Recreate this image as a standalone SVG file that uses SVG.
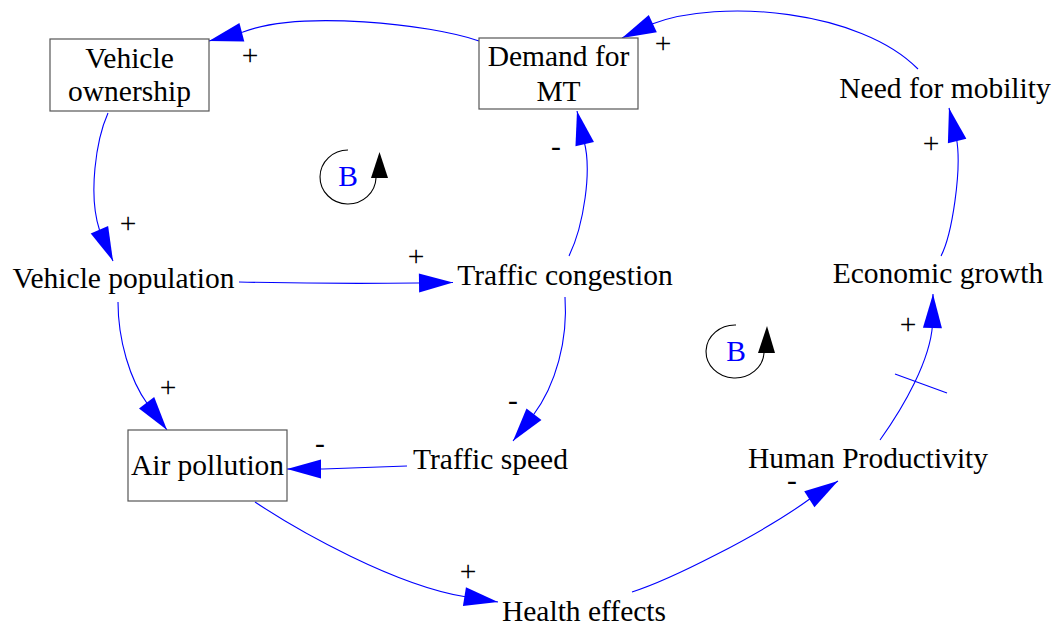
<svg xmlns="http://www.w3.org/2000/svg" width="1057" height="625" viewBox="0 0 1057 625">
<style>
text{font-family:'Liberation Serif','Times New Roman',serif;font-size:29.5px;fill:#000;text-anchor:middle}
.box{fill:#fff;stroke:#555;stroke-width:1.2}
.c{fill:none;stroke:#0000ff;stroke-width:1.1;marker-end:url(#ah)}
.d{fill:none;stroke:#0000ff;stroke-width:1.1}
text.b{fill:#0000ff}
.loop{fill:none;stroke:#000;stroke-width:1.1}
.la{fill:#000}
</style>
<defs>
<marker id="ah" markerUnits="userSpaceOnUse" markerWidth="40" markerHeight="24" refX="34" refY="10" orient="auto" overflow="visible">
<path d="M0,0.5 L34,10 L0,19.5 z" fill="#0000ff"/>
</marker>
</defs>
<rect width="1057" height="625" fill="#fff"/>
<g id="connectors">
<path class="c" d="M479,41 C430,24 300,10 243,32 L209,41"/>
<path class="c" d="M918,69 C860,10 720,-2 652,24 L622,38"/>
<path class="c" d="M108,113 C96,140 88,195 99.5,230 L113,261"/>
<path class="c" d="M239,282 Q330,284 417,283 L453,282.5"/>
<path class="c" d="M118,302 C118,340 130,380 147.5,404 L167,430"/>
<path class="c" d="M569,256 C584,225 592,170 584,141 L577,111"/>
<path class="c" d="M565,297 C568,340 556,385 533,415.5 L513,441"/>
<path class="c" d="M407,466 L323,469 L287,469"/>
<path class="c" d="M255,502 C300,532 395,585 464,596.5 L498,602"/>
<path class="c" d="M632,592 C670,580 760,535 809,499.5 L838,481"/>
<path class="c" d="M880,440 C905,405 930,360 932.5,325 L933,294"/>
<path class="d" d="M895,374 L947,393"/>
<path class="c" d="M941,256 C952,235 962,170 956.5,138.5 L949,108"/>
<text x="250" y="65">+</text>
<text x="663" y="53">+</text>
<text x="128" y="233">+</text>
<text x="416" y="266">+</text>
<text x="168" y="397">+</text>
<text x="556" y="155.5">-</text>
<text x="513" y="410">-</text>
<text x="320" y="453">-</text>
<text x="468" y="581">+</text>
<text x="792" y="490">-</text>
<text x="908" y="334">+</text>
<text x="931" y="153">+</text>
</g>
<g id="vehicle-ownership">
<rect class="box" x="50" y="39" width="159" height="72"/>
<text x="129.5" y="68">Vehicle</text>
<text x="129.5" y="101">ownership</text>
</g>
<g id="demand-for-mt">
<rect class="box" x="479" y="38" width="159" height="71"/>
<text x="558.5" y="66">Demand for</text>
<text x="558.5" y="101">MT</text>
</g>
<g id="need-for-mobility">
<text x="945" y="98">Need for mobility</text>
</g>
<g id="vehicle-population">
<text x="123.5" y="288">Vehicle population</text>
</g>
<g id="traffic-congestion">
<text x="565" y="285">Traffic congestion</text>
</g>
<g id="economic-growth">
<text x="938" y="283">Economic growth</text>
</g>
<g id="air-pollution">
<rect class="box" x="128" y="430" width="159" height="71"/>
<text x="207.5" y="475">Air pollution</text>
</g>
<g id="traffic-speed">
<text x="490.5" y="469">Traffic speed</text>
</g>
<g id="human-productivity">
<text x="868" y="468">Human Productivity</text>
</g>
<g id="health-effects">
<text x="584" y="621">Health effects</text>
</g>
<g id="loop-b1">
<path class="loop" d="M348,150 A28,27 0 1 0 376,178"/>
<polygon class="la" points="379.5,152 371,178 388,178"/>
<text class="b" x="348" y="186">B</text>
</g>
<g id="loop-b2">
<path class="loop" d="M736,325 A29,26.5 0 1 0 764,353"/>
<polygon class="la" points="767,326 758,353 775,353"/>
<text class="b" x="736" y="360.5">B</text>
</g>
</svg>
